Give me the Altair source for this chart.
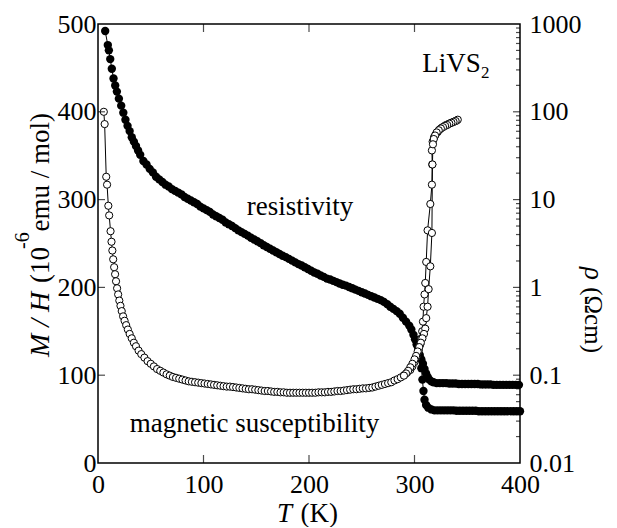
import altair as alt
import pandas as pd

FONT = "Liberation Serif"
W, H = 422, 439

# ---------------- data ----------------
# resistivity (filled circles): T in K and log10(rho / Ohm cm), read in decades off the log axis
rho_T_main = [6.8, 9.3, 10.3, 11.6, 13.1, 14.7, 16.3, 17.9, 19.8, 22,
              24, 26, 28, 30, 32, 34, 36, 38, 40,
              43, 46, 49, 52, 55, 58, 61,
              64, 67, 70, 73, 76, 79, 82, 85, 88, 91,
              94, 97, 100, 103, 106, 109, 112, 115, 118, 121,
              124, 127, 130, 133, 136, 139, 142, 145, 148, 151,
              154, 157, 160, 163, 166, 169, 172, 175, 178, 181,
              184, 187, 190, 193, 196, 199, 202, 205, 208, 211,
              214, 217, 220, 223, 226, 229, 232, 235, 238, 241,
              244, 247, 250, 253, 256, 259, 262, 265, 268, 271,
              274, 277, 280, 283, 286, 289, 292, 295,
              297, 299, 300.5, 302, 303.5, 305, 306.5, 308, 309.5, 311, 312.5, 314, 316, 318,
              321, 324, 327, 330, 333, 336, 339, 342, 345, 348,
              351, 354, 357, 360, 363, 366, 369, 372, 375, 378,
              381, 384, 387, 390, 393, 396, 399]
rho_log_main = [2.92, 2.76, 2.70, 2.60, 2.49, 2.38, 2.30, 2.23, 2.15, 2.07,
                1.99, 1.91, 1.84, 1.78, 1.71, 1.66, 1.61, 1.56, 1.51,
                1.44, 1.40, 1.35, 1.31, 1.26, 1.23, 1.20,
                1.17, 1.15, 1.12, 1.10, 1.08, 1.06, 1.03, 1.01, 0.99, 0.97,
                0.95, 0.92, 0.90, 0.88, 0.86, 0.83, 0.81, 0.79, 0.77, 0.74,
                0.72, 0.70, 0.675, 0.65, 0.63, 0.61, 0.59, 0.565, 0.545, 0.525,
                0.505, 0.48, 0.46, 0.44, 0.42, 0.40, 0.38, 0.36, 0.345, 0.325,
                0.305, 0.285, 0.265, 0.25, 0.23, 0.21, 0.19, 0.17, 0.155, 0.135,
                0.12, 0.10, 0.09, 0.075, 0.06, 0.045, 0.03, 0.02, 0.005, -0.01,
                -0.025, -0.04, -0.055, -0.07, -0.085, -0.10, -0.115, -0.13, -0.145, -0.165,
                -0.19, -0.22, -0.245, -0.27, -0.30, -0.345, -0.39, -0.435,
                -0.48, -0.54, -0.59, -0.65, -0.71, -0.77, -0.82, -0.87, -0.93, -0.98, -1.02, -1.05, -1.07, -1.08,
                -1.09, -1.09, -1.09, -1.09, -1.095, -1.095, -1.095, -1.10, -1.10, -1.10,
                -1.10, -1.10, -1.10, -1.10, -1.105, -1.105, -1.105, -1.105, -1.11, -1.11,
                -1.11, -1.11, -1.11, -1.11, -1.11, -1.11, -1.11]

rho_T_low = [303.5, 305, 306.5, 307.5, 308.5, 309.5, 311, 313, 316, 319,
             322, 325, 328, 331, 334, 337, 340, 343, 346, 349,
             352, 355, 358, 361, 364, 367, 370, 373, 376, 379,
             382, 385, 388, 391, 394, 397, 400]
rho_log_low = [-0.72, -0.80, -0.92, -1.05, -1.18, -1.28, -1.34, -1.37, -1.39, -1.40,
               -1.40, -1.40, -1.40, -1.40, -1.40, -1.40, -1.405, -1.405, -1.405, -1.405,
               -1.405, -1.405, -1.405, -1.41, -1.41, -1.41, -1.41, -1.41, -1.41, -1.41,
               -1.41, -1.41, -1.41, -1.41, -1.41, -1.41, -1.41]

# magnetic susceptibility M/H (open circles), 10^-6 emu/mol
sus_T_heat = [5.5, 6.3, 7.8, 8.6, 9.8, 10.6, 11.9, 12.8, 13.6, 14.4,
              15.3, 16.2, 17.1, 18.1, 19.1, 20.2, 21.3, 22.5, 23.8, 25.2,
              26.7, 28.3, 30, 32, 34, 36, 38.5, 41, 44, 47,
              50, 53, 56, 59, 62, 65, 68, 71, 74, 77,
              80, 83, 86, 89, 92, 95, 98, 101, 104, 107,
              110, 113, 116, 119, 122, 125, 128, 131, 134, 137,
              140, 143, 146, 149, 152, 155, 158, 161, 164, 167,
              170, 173, 176, 179, 182, 185, 188, 191, 194, 197,
              200, 203, 206, 209, 212, 215, 218, 221, 224, 227,
              230, 233, 236, 239, 242, 245, 248, 251, 254, 257,
              260, 263, 266, 269, 272, 275, 278, 281, 284, 287,
              290, 293, 296, 298, 300, 302, 304, 305.5, 306.5, 307.3,
              308, 308.6, 309.5, 310.2, 311.1, 312.4, 315, 316.5, 316.8, 316.5,
              317.2, 318.5, 320, 322, 324, 326, 328, 330, 332, 334,
              336, 338, 340]
sus_MH_heat = [400, 386, 326, 317, 293, 282, 264, 252, 242, 232,
               223, 215, 207, 199, 192, 185, 179, 173, 167, 162,
               157, 152, 147, 142, 137, 133, 128, 124, 120, 116,
               113, 110, 107, 105, 103, 101, 99.5, 98, 97, 96,
               95, 94, 93, 92.5, 92, 91.5, 91, 90.5, 90, 89.5,
               89, 88.5, 88, 87.5, 87, 87, 86.5, 86, 85.5, 85,
               84.5, 84, 84, 83.5, 83, 82.5, 82, 82, 81.5, 81,
               81, 80.5, 80.5, 80, 80, 80, 80, 80, 80, 80,
               80, 80, 80, 80.5, 80.5, 80.5, 81, 81, 81.5, 82,
               82, 82.5, 83, 83.5, 84, 84, 84.5, 85, 85, 85.5,
               86, 87, 88, 89, 90, 91, 92, 94, 95.5, 97.5,
               100, 103, 106, 110, 115, 121, 128, 135, 142, 150,
               161, 178, 192, 205, 229, 265, 295, 317, 340, 356,
               366, 371, 374, 377, 380, 382, 383.5, 385, 386, 387,
               388, 389, 390]
sus_T_cool = [341, 339, 337, 335, 333, 331, 329, 327, 325, 323,
              321, 319.5, 318.3, 317.5, 317, 316.5, 315, 313.4, 312.4, 311.1,
              310.2, 309, 307.5, 306, 304.5, 303, 301.5, 300, 298, 296,
              294, 292, 290]
sus_MH_cool = [391, 389.5, 388.5, 387.5, 386.5, 385, 384, 382.5, 381, 379,
               376.5, 373, 369, 363, 340, 262, 224, 198, 178, 165,
               153, 147, 142, 137, 132, 127, 122, 118, 113, 109,
               105, 102, 99.5]

# axes
x_labels = [0, 100, 200, 300, 400]
x_ticks = [100, 200, 300]
left_labels = [0, 100, 200, 300, 400, 500]
left_ticks = [100, 200, 300, 400]
right_labels = [0.01, 0.1, 1, 10, 100, 1000]
right_major = [0.1, 1, 10, 100]
right_minor = [0.02, 0.03, 0.04, 0.05, 0.06, 0.07, 0.08, 0.09,
               0.2, 0.3, 0.4, 0.5, 0.6, 0.7, 0.8, 0.9,
               2, 3, 4, 5, 6, 7, 8, 9,
               20, 30, 40, 50, 60, 70, 80, 90,
               200, 300, 400, 500, 600, 700, 800, 900]

# text
title_left_a = "M / H"
title_left_b = "(10"
title_left_sup = "-6"
title_left_c = "emu / mol)"
title_right_a = "\u03c1"
title_right_b = "(\u03a9cm)"
title_x_a = "T"
title_x_b = "(K)"
ann_resist = "resistivity"
ann_sus = "magnetic susceptibility"
ann_comp = "LiVS"
ann_comp_sub = "2"

# ---------------- frames ----------------
rho_a = pd.DataFrame({"T": rho_T_main, "lr": rho_log_main, "branch": "a"})
rho_a["i"] = range(len(rho_a))
rho_b = pd.DataFrame({"T": rho_T_low, "lr": rho_log_low, "branch": "b"})
rho_b["i"] = range(len(rho_b))
rho_df = pd.concat([rho_a, rho_b], ignore_index=True)
rho_df["rho"] = 10.0 ** rho_df["lr"]

sus_df = pd.DataFrame({"T": sus_T_heat + sus_T_cool, "MH": sus_MH_heat + sus_MH_cool})
sus_df["i"] = range(len(sus_df))

xs = alt.Scale(domain=[0, 400], nice=False, zero=False)
ls = alt.Scale(domain=[0, 500], nice=False, zero=False)
rs = alt.Scale(type="log", domain=[0.01, 1000], nice=False)

x_axis = alt.Axis(orient="bottom", values=x_labels, format="d", labelFlush=False, labelPadding=8,
                  title=None, grid=False, ticks=False, domain=False,
                  labelFont=FONT, labelFontSize=26, labelColor="black")
l_axis = alt.Axis(orient="left", values=left_labels, format="d", labelPadding=2,
                  title=None, grid=False, ticks=False, domain=False,
                  labelFont=FONT, labelFontSize=26, labelColor="black")
r_axis = alt.Axis(orient="right", values=right_labels, format="~g", labelPadding=9,
                  title=None, grid=False, ticks=False, domain=False,
                  labelFont=FONT, labelFontSize=26, labelColor="black")

# ---------------- resistivity ----------------
rbase = alt.Chart(rho_df)
rho_line = rbase.mark_line(color="black", strokeWidth=1).encode(
    x=alt.X("T:Q", scale=xs, axis=None),
    y=alt.Y("rho:Q", scale=rs, axis=r_axis),
    detail="branch:N", order="i:Q")
rho_pts = rbase.mark_circle(color="black", opacity=1, size=70).encode(
    x=alt.X("T:Q", scale=xs, axis=None),
    y=alt.Y("rho:Q", scale=rs, axis=None))
rmaj = alt.Chart(pd.DataFrame({"v": right_major})).mark_tick(
    orient="horizontal", size=7, thickness=1.2, color="black", xOffset=-3.5).encode(
    x=alt.XDatum(400, scale=xs, axis=None), y=alt.Y("v:Q", scale=rs, axis=None))
rmin = alt.Chart(pd.DataFrame({"v": right_minor})).mark_tick(
    orient="horizontal", size=4, thickness=1.2, color="black", xOffset=-2).encode(
    x=alt.XDatum(400, scale=xs, axis=None), y=alt.Y("v:Q", scale=rs, axis=None))

# ---------------- susceptibility ----------------
sbase = alt.Chart(sus_df)
sus_line = sbase.mark_line(color="black", strokeWidth=1).encode(
    x=alt.X("T:Q", scale=xs, axis=x_axis),
    y=alt.Y("MH:Q", scale=ls, axis=l_axis),
    order="i:Q")
sus_pts = sbase.mark_point(shape="circle", filled=True, fill="white", stroke="black",
                           strokeWidth=1, size=52, opacity=1).encode(
    x=alt.X("T:Q", scale=xs, axis=None),
    y=alt.Y("MH:Q", scale=ls, axis=None))

lt = alt.Chart(pd.DataFrame({"v": left_ticks})).mark_tick(
    orient="horizontal", size=7, thickness=1.2, color="black", xOffset=3.5).encode(
    x=alt.XDatum(0, scale=xs, axis=None), y=alt.Y("v:Q", scale=ls, axis=None))
bt = alt.Chart(pd.DataFrame({"v": x_ticks})).mark_tick(
    orient="vertical", size=8, thickness=1.2, color="black", yOffset=-4).encode(
    x=alt.X("v:Q", scale=xs, axis=None), y=alt.YDatum(0, scale=ls, axis=None))
tt = alt.Chart(pd.DataFrame({"v": x_ticks})).mark_tick(
    orient="vertical", size=8, thickness=1.2, color="black", yOffset=4).encode(
    x=alt.X("v:Q", scale=xs, axis=None), y=alt.YDatum(500, scale=ls, axis=None))


def data_text(txt, t, mh, size, align="left"):
    return alt.Chart(pd.DataFrame({"s": [txt], "T": [t], "MH": [mh]})).mark_text(
        font=FONT, fontSize=size, align=align, baseline="alphabetic", color="black").encode(
        x=alt.X("T:Q", scale=xs, axis=None), y=alt.Y("MH:Q", scale=ls, axis=None), text="s:N")


def px_text(txt, px, py, size, angle=0, align="left", style="normal"):
    return alt.Chart(pd.DataFrame({"s": [txt]})).mark_text(
        font=FONT, fontSize=size, align=align, baseline="alphabetic", angle=angle,
        fontStyle=style, color="black").encode(
        x=alt.value(px), y=alt.value(py), text="s:N")


texts = [
    data_text(ann_resist, 141, 282.5, 27),
    data_text(ann_sus, 30, 35.3, 27),
    data_text(ann_comp, 307.3, 445.7, 27),
    data_text(ann_comp_sub, 363, 438.5, 17),
    px_text(title_left_a, -49, 333, 28, angle=270, align="left", style="italic"),
    px_text(title_left_b, -49, 259, 27, angle=270, align="left"),
    px_text(title_left_sup, -69, 225, 20, angle=270, align="left"),
    px_text(title_left_c, -49, 89, 27, angle=270, align="right"),
    px_text(title_right_a, 487, 243, 27, angle=90, align="left", style="italic"),
    px_text(title_right_b, 487, 329, 25, angle=90, align="right"),
    px_text(title_x_a, 179, 498, 27, align="left", style="italic"),
    px_text(title_x_b, 240, 498, 27, align="right"),
]

chart = alt.layer(rho_line, rho_pts, rmaj, rmin, sus_line, sus_pts, lt, bt, tt, *texts).resolve_scale(
    x="independent", y="independent").properties(
    width=W, height=H,
    padding={"left": 90, "top": 16, "right": 89, "bottom": 64},
    autosize=alt.AutoSizeParams(type="none"),
).configure_view(stroke="black", strokeWidth=1.5)

chart.save("out.html", embed_options={"renderer": "svg", "actions": False})
